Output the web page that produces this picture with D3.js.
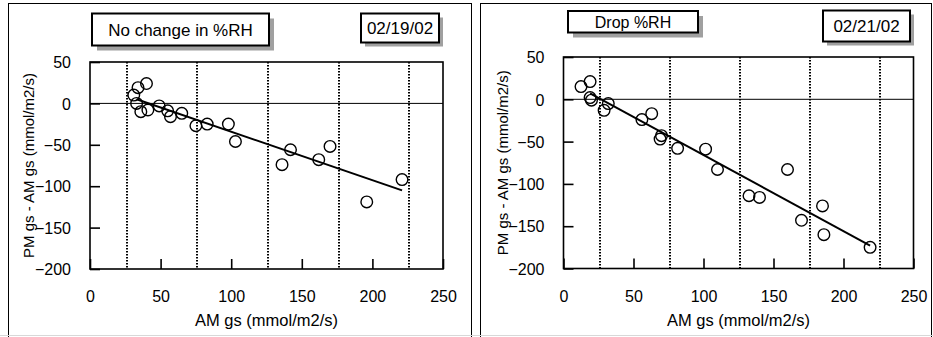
<!DOCTYPE html>
<html>
<head>
<meta charset="utf-8">
<script src="https://cdn.jsdelivr.net/npm/d3@7"></script>
<style>
  html, body { margin: 0; padding: 0; background: #fff; }
  svg text { font-family: "Liberation Sans", Arial, sans-serif; fill: #000; }
</style>
</head>
<body>
<svg id="chart" width="933" height="337"></svg>
<script>
// ---------- data ----------
const xTickValues = [0, 50, 100, 150, 200, 250];
const yTickValues = [50, 0, -50, -100, -150, -200];
const dottedLines = [26, 76, 126, 176, 226];

const leftTitle = "No change in %RH";
const leftDate = "02/19/02";
const leftAM = [40, 34, 31, 33, 36, 41, 49, 55, 57, 65, 75, 83, 98, 103, 136, 142, 162, 170, 196, 221];
const leftDiff = [24, 19, 10, 0, -10, -8, -3, -9, -16, -12, -27, -25, -25, -46, -74, -56, -68, -52, -119, -92];
const leftFitX = [33, 221];
const leftFitY = [5, -105];

const rightTitle = "Drop %RH";
const rightDate = "02/21/02";
const rightAM = [12.5, 19, 19, 20, 29, 32, 56, 63, 70, 69, 81.5, 101.5, 110, 132.5, 140, 160, 170, 185, 186, 219];
const rightDiff = [15, 21, 2, -1, -13, -5, -24, -17, -43, -47, -58, -59, -83, -114, -116, -83, -143, -126, -160, -175];
const rightFitX = [19, 219];
const rightFitY = [7, -173];

const xLabel = "AM gs (mmol/m2/s)";
const yLabel = "PM gs - AM gs (mmol/m2/s)";

// ---------- layout ----------
const svg = d3.select("#chart");

const panels = [
  {
    border: [8.5, 3.5, 463, 340],
    plot: { x0: 90, x1: 443, y0: 62, y1: 269 },
    am: leftAM, diff: leftDiff, fitX: leftFitX, fitY: leftFitY,
    title: leftTitle, titleBox: [92, 13.5, 177, 32], titleSize: 17, shadow: 5,
    date: leftDate, dateBox: [361, 13.5, 78, 29], dateSize: 17, dateShadow: 4
  },
  {
    border: [480.5, 3.5, 451, 340],
    plot: { x0: 563.5, x1: 913.5, y0: 57, y1: 268.5 },
    am: rightAM, diff: rightDiff, fitX: rightFitX, fitY: rightFitY,
    title: rightTitle, titleBox: [568, 11, 130, 21.5], titleSize: 16, shadow: 5,
    date: rightDate, dateBox: [823, 10.5, 87, 31], dateSize: 17, dateShadow: 4
  }
];

panels.forEach(p => {
  // outer panel border
  svg.append("rect")
    .attr("x", p.border[0]).attr("y", p.border[1])
    .attr("width", p.border[2]).attr("height", p.border[3])
    .attr("fill", "none").attr("stroke", "#000").attr("stroke-width", 1);

  const x = d3.scaleLinear().domain([0, 250]).range([p.plot.x0, p.plot.x1]);
  const y = d3.scaleLinear().domain([-200, 50]).range([p.plot.y1, p.plot.y0]);
  const g = svg.append("g");

  // dotted verticals
  g.selectAll("line.dot").data(dottedLines).enter().append("line")
    .attr("x1", d => Math.round(x(d))).attr("x2", d => Math.round(x(d)))
    .attr("y1", y(50)).attr("y2", y(-200))
    .attr("stroke", "#000").attr("stroke-width", 2)
    .attr("stroke-dasharray", "1.5,1.5");

  // zero line
  g.append("line")
    .attr("x1", x(0)).attr("x2", x(250))
    .attr("y1", y(0)).attr("y2", y(0))
    .attr("stroke", "#000").attr("stroke-width", 1);

  // frame
  g.append("rect")
    .attr("x", x(0)).attr("y", y(50))
    .attr("width", x(250) - x(0)).attr("height", y(-200) - y(50))
    .attr("fill", "none").attr("stroke", "#000").attr("stroke-width", 1.6);

  // axes (inward ticks)
  const xAxis = d3.axisBottom(x).tickValues(xTickValues).tickSize(-10).tickPadding(22);
  const yAxis = d3.axisLeft(y).tickValues(yTickValues).tickSize(-10).tickPadding(19);

  const gx = g.append("g").attr("transform", `translate(0,${y(-200)})`).call(xAxis);
  gx.select(".domain").remove();
  gx.selectAll(".tick line").attr("stroke", "#000").attr("stroke-width", 1.6);
  gx.selectAll(".tick text").attr("font-size", 16).attr("fill", "#000");

  const gy = g.append("g").attr("transform", `translate(${x(0)},0)`).call(yAxis);
  gy.select(".domain").remove();
  gy.selectAll(".tick line").attr("stroke", "#000").attr("stroke-width", 1.6);
  gy.selectAll(".tick text").attr("font-size", 16).attr("fill", "#000").attr("dy", "0.36em");

  // regression line
  const fitPts = p.fitX.map((v, i) => [v, p.fitY[i]]);
  g.append("path")
    .datum(fitPts)
    .attr("d", d3.line().x(d => x(d[0])).y(d => y(d[1])))
    .attr("fill", "none").attr("stroke", "#000").attr("stroke-width", 2);

  // points
  const pts = p.am.map((v, i) => [v, p.diff[i]]);
  g.selectAll("circle.pt").data(pts).enter().append("circle")
    .attr("cx", d => x(d[0])).attr("cy", d => y(d[1]))
    .attr("r", 5.8)
    .attr("fill", "none").attr("stroke", "#000").attr("stroke-width", 1.4);

  // axis titles
  g.append("text")
    .attr("x", (p.plot.x0 + p.plot.x1) / 2).attr("y", 326)
    .attr("text-anchor", "middle").attr("font-size", 16.5)
    .text(xLabel);
  g.append("text")
    .attr("transform", `translate(${p.plot.x0 - 56},${(p.plot.y0 + p.plot.y1) / 2}) rotate(-90)`)
    .attr("text-anchor", "middle").attr("font-size", 15)
    .text(yLabel);

  // title box with shadow
  const drawBox = (box, sh, label, size) => {
    svg.append("rect")
      .attr("x", box[0] + sh).attr("y", box[1] + sh)
      .attr("width", box[2]).attr("height", box[3])
      .attr("fill", "#a0a0a0");
    svg.append("rect")
      .attr("x", box[0]).attr("y", box[1])
      .attr("width", box[2]).attr("height", box[3])
      .attr("fill", "#fff").attr("stroke", "#000").attr("stroke-width", 2);
    svg.append("text")
      .attr("x", box[0] + box[2] / 2).attr("y", box[1] + box[3] / 2)
      .attr("dy", "0.36em")
      .attr("text-anchor", "middle").attr("font-size", size)
      .text(label);
  };
  drawBox(p.titleBox, p.shadow, p.title, p.titleSize);
  drawBox(p.dateBox, p.dateShadow, p.date, p.dateSize);
});

// bottom light line
svg.append("line")
  .attr("x1", 0).attr("x2", 933).attr("y1", 335.5).attr("y2", 335.5)
  .attr("stroke", "#d8d8d8").attr("stroke-width", 1);
</script>
</body>
</html>
